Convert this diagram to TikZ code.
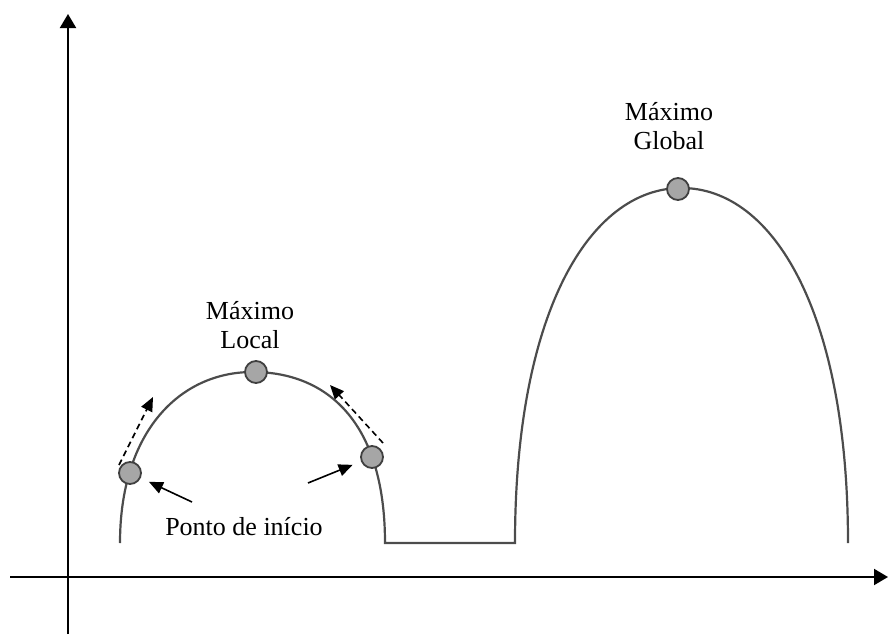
\documentclass[tikz,border=0pt]{standalone}
\usepackage{fontspec}
\setmainfont{Liberation Serif}
\usetikzlibrary{arrows.meta}

\begin{document}
\begin{tikzpicture}[x=0.5pt, y=0.5pt, line width=1pt,
    curva/.style={black!70, line width=1.1pt},
    ponto/.style={circle, draw=black!75, fill=black!35, line width=0.9pt, minimum size=11pt, inner sep=0pt},
    rotulo/.style={align=center, inner sep=0pt, font=\fontsize{13}{14.5}\selectfont},
    seta/.style={-{Triangle[length=7pt, width=6pt]}, line width=0.8pt, shorten >=4.5pt},
    tracejada/.style={-{Triangle[length=7pt, width=6pt]}, line width=0.8pt, dash pattern=on 3pt off 2pt},
    eixo/.style={-{Triangle[length=7pt, width=8pt]}, line width=1pt}]

    \useasboundingbox (0,0) rectangle (890,634);

    \coordinate (yA) at (68,0);
    \coordinate (yB) at (68,620);
    \coordinate (xA) at (10,57);
    \coordinate (xB) at (888,57);
    \def\base{91}

    % eixos
    \draw[eixo] (yA) -- (yB);
    \draw[eixo] (xA) -- (xB);

    % curva com os dois picos
    \draw[curva] (120,\base) .. controls (120,202) and (179.6,262) .. (252.5,262)
                 .. controls (325.4,262) and (385,214) .. (385,\base)
                 -- (515,\base)
                 .. controls (515,322) and (589.9,446) .. (681.5,446)
                 .. controls (773.1,446) and (848,322) .. (848,\base);

    \node[ponto] (inicioA) at (130,161) {};
    \node[ponto] (inicioB) at (372,177) {};
    \node[ponto] (maxlocal) at (256,262) {};
    \node[ponto] (maxglobal) at (678,445) {};

    \node[rotulo] (rotlocal) at (250,309) {Máximo\\Local};
    \node[rotulo] (rotglobal) at (669,508) {Máximo\\Global};
    \node[rotulo] (rotinicio) at (244,107) {Ponto de início};

    % setas
    \coordinate (sA) at (192,132);
    \coordinate (sB) at (308,151);
    \draw[seta] (sA) -- (inicioA);
    \draw[seta] (sB) -- (inicioB);

    \coordinate (tA) at (119,169);
    \coordinate (tA2) at (153,237);
    \coordinate (tB) at (383,191);
    \coordinate (tB2) at (330,249);
    \draw[tracejada] (tA) -- (tA2);
    \draw[tracejada] (tB) -- (tB2);

\end{tikzpicture}
\end{document}
